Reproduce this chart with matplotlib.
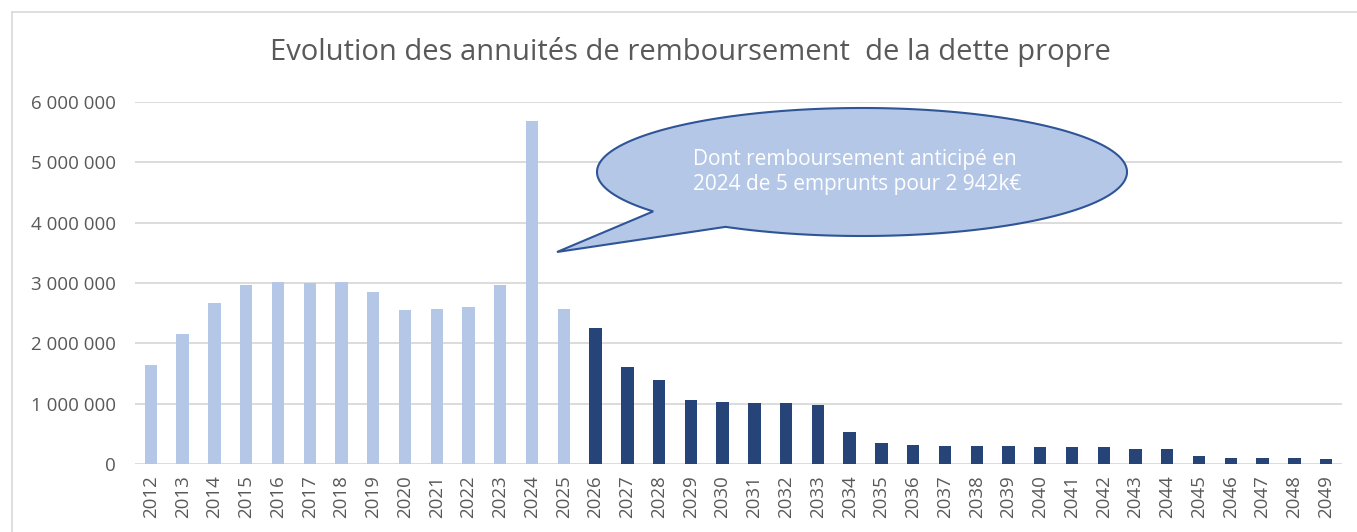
import numpy as np
import matplotlib
matplotlib.use("Agg")
import matplotlib.pyplot as plt
from matplotlib.patches import Polygon
from matplotlib.lines import Line2D
from matplotlib.transforms import Affine2D

years = list(range(2012, 2050))
annuites = [
    1640000, 2150000, 2670000, 2970000, 3020000, 3000000, 3020000, 2850000,
    2550000, 2570000, 2610000, 2970000, 5690000, 2570000,
    2250000, 1600000, 1390000, 1060000, 1020000, 1010000, 1010000, 980000,
    530000, 355000, 320000, 295000, 295000, 295000, 280000, 280000,
    280000, 255000, 255000, 140000, 100000, 100000, 100000, 80000,
]
last_realise = 2025  # bars up to this year are light blue

light = "#B4C7E7"
dark = "#264478"
grid_col = "#D9D9D9"
text_col = "#595959"

W, H = 1357, 532
plt.rcParams["font.family"] = ["Open Sans", "DejaVu Sans"]

fig = plt.figure(figsize=(W / 100, H / 100), dpi=100)

# chart frame (light grey, cut by the right and bottom edges)
fig.add_artist(Line2D([12 / W, 1], [1 - 12 / H, 1 - 12 / H], color=grid_col, lw=1.2, transform=fig.transFigure))
fig.add_artist(Line2D([12 / W, 12 / W], [0, 1 - 12 / H], color=grid_col, lw=1.2, transform=fig.transFigure))

ax = fig.add_axes([135 / W, (H - 464) / H, (1342 - 135) / W, (464 - 102) / H])
x = np.arange(len(years))
colors = [light if y <= last_realise else dark for y in years]
ax.bar(x, annuites, width=0.39, color=colors, zorder=3)

ax.set_xlim(-0.5, len(years) - 0.5)
ax.set_ylim(0, 6000000)
yt = np.arange(0, 6000001, 1000000)
ax.set_yticks(yt)
ax.set_yticklabels([f"{v:,.0f}".replace(",", " ") for v in yt], color=text_col, fontsize=13.5)
ax.set_xticks(x)
ax.set_xticklabels([str(y) for y in years], rotation=90, color=text_col, fontsize=13.5)
ax.tick_params(length=0, axis="y", pad=13.5)
ax.tick_params(length=0, axis="x", pad=8)
ax.grid(axis="y", color=grid_col, lw=1.3, zorder=0)
for s in ax.spines.values():
    s.set_visible(False)

fig.text(690 / W, 1 - 52 / H, "Evolution des annuités de remboursement  de la dette propre",
         ha="center", va="center", fontsize=21, color=text_col)

# callout bubble, built in pixel coordinates (y downward)
cx, cy, a, b = 862, 172, 265, 64
t1, t2 = np.deg2rad(142), np.deg2rad(121) + 2 * np.pi
t = np.linspace(t1, t2, 300)
pts = np.column_stack([cx + a * np.cos(t), cy + b * np.sin(t)])
pts = np.vstack([pts, [[557, 252]]])
pix = Affine2D().scale(1 / W, -1 / H).translate(0, 1) + fig.transFigure
bubble = Polygon(pts, closed=True, facecolor=light, edgecolor="#2F5597", lw=1.5, transform=pix)
fig.add_artist(bubble)
fig.text(693 / W, 1 - 172 / H, "Dont remboursement anticipé en\n2024 de 5 emprunts pour 2 942k€",
         ha="left", va="center", fontsize=15, color="white", linespacing=1.3)

fig.savefig("out.png", dpi=100)
